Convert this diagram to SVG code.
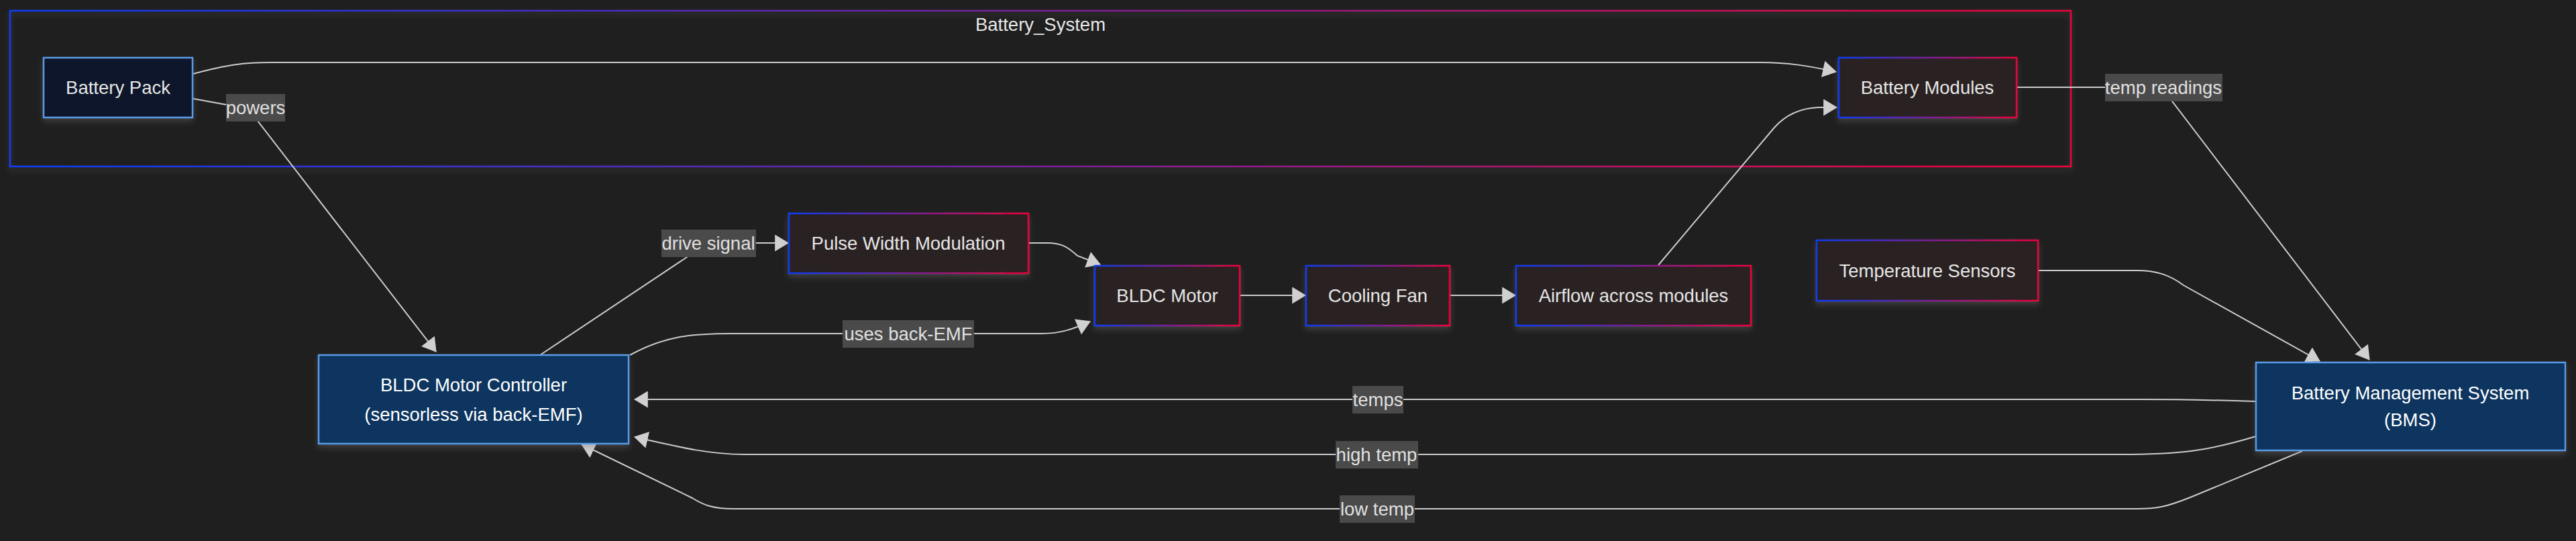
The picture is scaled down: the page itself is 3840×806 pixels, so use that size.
<svg xmlns="http://www.w3.org/2000/svg" width="3840" height="806" viewBox="0 0 3840 806">
<defs>
<linearGradient id="grad" x1="0" y1="0" x2="1" y2="0">
<stop offset="0" stop-color="#0a3cf5"/>
<stop offset="0.5" stop-color="#7a1f9a"/>
<stop offset="1" stop-color="#f0003c"/>
</linearGradient>
<linearGradient id="cgrad" gradientUnits="userSpaceOnUse" x1="15" y1="0" x2="3087" y2="0">
<stop offset="0" stop-color="#0a3cf5"/>
<stop offset="0.5" stop-color="#7a1f9a"/>
<stop offset="1" stop-color="#f0003c"/>
</linearGradient>
<filter id="shadow" x="-10%" y="-20%" width="120%" height="150%">
<feDropShadow dx="0" dy="5" stdDeviation="4" flood-color="#777" flood-opacity="0.35"/>
</filter>
<marker id="arrow" viewBox="0 0 20 24" refX="19" refY="12" markerWidth="21" markerHeight="25" markerUnits="userSpaceOnUse" orient="auto">
<path d="M0,0 L20,12 L0,24 z" fill="#d0d0d0"/>
</marker>
<style>
text{font-family:"Liberation Sans",Arial,sans-serif;font-size:27.5px;text-anchor:middle}
.grad rect{fill:#2c2020;stroke:url(#grad);stroke-width:2.5}
.grad text{fill:#e6e6e6}
.blue rect{fill:#08355f;stroke:#5a9be6;stroke-width:2.5}
.blue text{fill:#ffffff}
.pack rect{fill:#0e172a;stroke:#5a9be6;stroke-width:2.5}
.pack text{fill:#e6e6e6}
.edge{fill:none;stroke:#cccccc;stroke-width:2}
.lbl rect{fill:#4a4a4a}
.lbl text{fill:#e0e0e0}
</style>
</defs>
<rect width="3840" height="806" fill="#1f1f1f"/>

<g id="cluster-Battery_System">
<rect x="15" y="16" width="3072" height="232" fill="none" stroke="url(#cgrad)" stroke-width="2.5" filter="url(#shadow)"/>
<text x="1551" y="46" fill="#e6e6e6">Battery_System</text>
</g>

<g id="connectors">
<path class="edge" marker-end="url(#arrow)" d="M288,110 C340,96 365,93 405,93 L2625,93 C2665,93 2695,98 2737,107"/>
<path class="edge" marker-end="url(#arrow)" d="M288,147 L370,162 L650,524"/>
<path class="edge" marker-end="url(#arrow)" d="M805,529 L1048,367 Q1056,362 1066,362 L1175,362"/>
<path class="edge" marker-end="url(#arrow)" d="M1533,362 L1562,362 C1582,362 1592,368 1606,381 L1640,394"/>
<path class="edge" marker-end="url(#arrow)" d="M939,529 C990,501 1030,497 1090,497 L1552,497 C1582,497 1600,490 1625,479"/>
<path class="edge" marker-end="url(#arrow)" d="M1848,440 L1946,440"/>
<path class="edge" marker-end="url(#arrow)" d="M2161,440 L2259,440"/>
<path class="edge" marker-end="url(#arrow)" d="M2472,395 L2645,190 Q2670,162 2710,160 L2738,160"/>
<path class="edge" marker-end="url(#arrow)" d="M3006,130 L3222,130 L3532,536"/>
<path class="edge" marker-end="url(#arrow)" d="M3038,403 L3185,403 C3215,403 3235,410 3255,425 L3458,538"/>
<path class="edge" marker-end="url(#arrow)" d="M3363,598 C3300,596 3240,595 3190,595 L946,595"/>
<path class="edge" marker-end="url(#arrow)" d="M3363,650 C3290,672 3250,677 3160,677 L1110,677 C1060,677 1020,668 946,651"/>
<path class="edge" marker-end="url(#arrow)" d="M3432,672 L3265,741 C3230,755 3215,758 3185,758 L1094,758 C1062,758 1048,752 1032,742 L867,662"/>
</g>

<g id="edge-labels">
<g class="lbl"><rect x="337" y="140" width="88" height="41"/><text x="381" y="170">powers</text></g>
<g class="lbl"><rect x="986" y="342" width="141" height="41"/><text x="1056" y="372">drive signal</text></g>
<g class="lbl"><rect x="1256" y="477" width="196" height="41"/><text x="1354" y="507">uses back-EMF</text></g>
<g class="lbl"><rect x="3138" y="110" width="175" height="41"/><text x="3225" y="140">temp readings</text></g>
<g class="lbl"><rect x="2016" y="575" width="76" height="41"/><text x="2054" y="605">temps</text></g>
<g class="lbl"><rect x="1991" y="657" width="123" height="41"/><text x="2052" y="687">high temp</text></g>
<g class="lbl"><rect x="1997" y="738" width="112" height="41"/><text x="2053" y="768">low temp</text></g>
</g>

<g id="node-BatteryPack" class="pack"><rect x="65" y="86" width="222" height="89" filter="url(#shadow)"/><text x="176" y="140">Battery Pack</text></g>
<g id="node-BatteryModules" class="grad"><rect x="2741" y="86" width="265" height="89" filter="url(#shadow)"/><text x="2873" y="140">Battery Modules</text></g>
<g id="node-PWM" class="grad"><rect x="1176" y="318" width="357" height="89" filter="url(#shadow)"/><text x="1354" y="372">Pulse Width Modulation</text></g>
<g id="node-BLDCMotor" class="grad"><rect x="1632" y="396" width="216" height="89" filter="url(#shadow)"/><text x="1740" y="450">BLDC Motor</text></g>
<g id="node-CoolingFan" class="grad"><rect x="1947" y="396" width="214" height="89" filter="url(#shadow)"/><text x="2054" y="450">Cooling Fan</text></g>
<g id="node-Airflow" class="grad"><rect x="2260" y="396" width="350" height="89" filter="url(#shadow)"/><text x="2435" y="450">Airflow across modules</text></g>
<g id="node-TempSensors" class="grad"><rect x="2708" y="358" width="330" height="90" filter="url(#shadow)"/><text x="2873" y="413">Temperature Sensors</text></g>
<g id="node-Controller" class="blue"><rect x="475" y="529" width="462" height="132" filter="url(#shadow)"/><text x="706" y="583">BLDC Motor Controller</text><text x="706" y="627">(sensorless via back-EMF)</text></g>
<g id="node-BMS" class="blue"><rect x="3363" y="540" width="461" height="131" filter="url(#shadow)"/><text x="3593" y="595">Battery Management System</text><text x="3593" y="635">(BMS)</text></g>
</svg>
